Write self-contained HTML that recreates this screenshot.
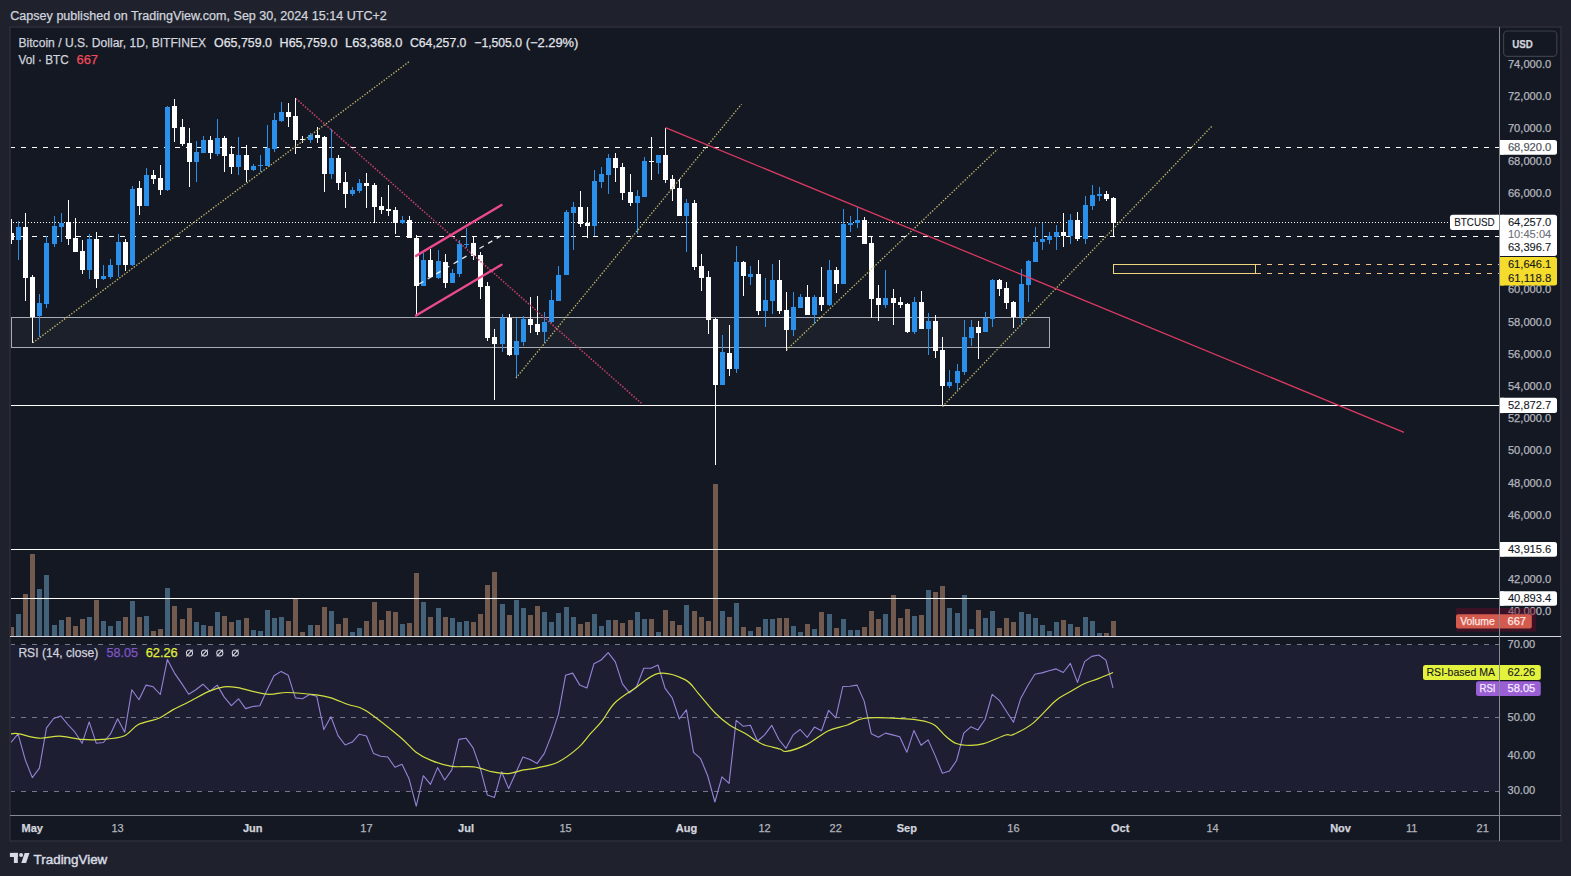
<!DOCTYPE html><html><head><meta charset="utf-8"><style>html,body{margin:0;padding:0;background:#1f222d;width:1571px;height:876px;overflow:hidden}svg{display:block}text{font-family:"Liberation Sans", sans-serif}</style></head><body>
<svg width="1571" height="876" viewBox="0 0 1571 876">
<rect x="0" y="0" width="1571" height="876" fill="#1f222d"/>
<text x="10.30" y="20.20" font-size="12.5" fill="#d1d4dc" text-anchor="start" font-weight="normal" stroke="#d1d4dc" stroke-width="0.25" textLength="376.50" lengthAdjust="spacingAndGlyphs" >Capsey published on TradingView.com, Sep 30, 2024 15:14 UTC+2</text>
<rect x="10" y="27" width="1551" height="814" fill="#141823" stroke="#2b2f3a" stroke-width="1.6"/>
<rect x="11" y="645" width="1488" height="146" fill="#7e57c2" fill-opacity="0.1"/>
<defs><clipPath id="pc"><rect x="11" y="28" width="1488.5" height="608"/></clipPath><clipPath id="rc"><rect x="11" y="637" width="1488.5" height="178"/></clipPath></defs>
<g clip-path="url(#pc)">
<rect x="11.5" y="317.5" width="1038" height="30" fill="#ffffff" fill-opacity="0.035" stroke="#a9acb4" stroke-width="1" shape-rendering="crispEdges"/>
<rect x="1113.5" y="264.5" width="142" height="9" fill="#ffffff" fill-opacity="0.02" stroke="#eed67e" stroke-width="1" shape-rendering="crispEdges"/>
<rect x="9" y="627" width="5" height="9" fill="#735a4e"/>
<rect x="16" y="614" width="5" height="22" fill="#43627a"/>
<rect x="23" y="594" width="5" height="42" fill="#735a4e"/>
<rect x="30" y="554" width="5" height="82" fill="#735a4e"/>
<rect x="37" y="589" width="5" height="47" fill="#43627a"/>
<rect x="44" y="575" width="5" height="61" fill="#43627a"/>
<rect x="52" y="625" width="5" height="11" fill="#43627a"/>
<rect x="59" y="620" width="5" height="16" fill="#43627a"/>
<rect x="66" y="617" width="5" height="19" fill="#735a4e"/>
<rect x="73" y="626" width="5" height="10" fill="#735a4e"/>
<rect x="80" y="619" width="5" height="17" fill="#735a4e"/>
<rect x="87" y="617" width="5" height="19" fill="#43627a"/>
<rect x="94" y="600" width="5" height="36" fill="#735a4e"/>
<rect x="101" y="621" width="5" height="15" fill="#43627a"/>
<rect x="108" y="626" width="5" height="10" fill="#43627a"/>
<rect x="116" y="621" width="5" height="15" fill="#43627a"/>
<rect x="123" y="617" width="5" height="19" fill="#735a4e"/>
<rect x="130" y="601" width="5" height="35" fill="#43627a"/>
<rect x="137" y="617" width="5" height="19" fill="#735a4e"/>
<rect x="144" y="616" width="5" height="20" fill="#43627a"/>
<rect x="151" y="631" width="5" height="5" fill="#735a4e"/>
<rect x="158" y="629" width="5" height="7" fill="#735a4e"/>
<rect x="165" y="588" width="5" height="48" fill="#43627a"/>
<rect x="172" y="606" width="5" height="30" fill="#735a4e"/>
<rect x="180" y="619" width="5" height="17" fill="#735a4e"/>
<rect x="187" y="608" width="5" height="28" fill="#735a4e"/>
<rect x="194" y="622" width="5" height="14" fill="#43627a"/>
<rect x="201" y="625" width="5" height="11" fill="#43627a"/>
<rect x="208" y="626" width="5" height="10" fill="#735a4e"/>
<rect x="215" y="612" width="5" height="24" fill="#43627a"/>
<rect x="222" y="616" width="5" height="20" fill="#735a4e"/>
<rect x="229" y="622" width="5" height="14" fill="#735a4e"/>
<rect x="236" y="620" width="5" height="16" fill="#43627a"/>
<rect x="244" y="618" width="5" height="18" fill="#735a4e"/>
<rect x="251" y="630" width="5" height="6" fill="#43627a"/>
<rect x="258" y="631" width="5" height="5" fill="#43627a"/>
<rect x="265" y="610" width="5" height="26" fill="#43627a"/>
<rect x="272" y="618" width="5" height="18" fill="#43627a"/>
<rect x="279" y="617" width="5" height="19" fill="#43627a"/>
<rect x="286" y="621" width="5" height="15" fill="#735a4e"/>
<rect x="293" y="599" width="5" height="37" fill="#735a4e"/>
<rect x="300" y="632" width="5" height="4" fill="#735a4e"/>
<rect x="308" y="625" width="5" height="11" fill="#43627a"/>
<rect x="315" y="625" width="5" height="11" fill="#735a4e"/>
<rect x="322" y="607" width="5" height="29" fill="#735a4e"/>
<rect x="329" y="611" width="5" height="25" fill="#43627a"/>
<rect x="336" y="624" width="5" height="12" fill="#735a4e"/>
<rect x="343" y="618" width="5" height="18" fill="#735a4e"/>
<rect x="350" y="632" width="5" height="4" fill="#43627a"/>
<rect x="357" y="628" width="5" height="8" fill="#43627a"/>
<rect x="364" y="621" width="5" height="15" fill="#735a4e"/>
<rect x="372" y="602" width="5" height="34" fill="#735a4e"/>
<rect x="379" y="620" width="5" height="16" fill="#735a4e"/>
<rect x="386" y="611" width="5" height="25" fill="#735a4e"/>
<rect x="393" y="612" width="5" height="24" fill="#735a4e"/>
<rect x="400" y="624" width="5" height="12" fill="#43627a"/>
<rect x="407" y="623" width="5" height="13" fill="#735a4e"/>
<rect x="414" y="573" width="5" height="63" fill="#735a4e"/>
<rect x="421" y="602" width="5" height="34" fill="#43627a"/>
<rect x="428" y="617" width="5" height="19" fill="#735a4e"/>
<rect x="436" y="608" width="5" height="28" fill="#43627a"/>
<rect x="443" y="617" width="5" height="19" fill="#735a4e"/>
<rect x="450" y="618" width="5" height="18" fill="#43627a"/>
<rect x="457" y="622" width="5" height="14" fill="#43627a"/>
<rect x="464" y="621" width="5" height="15" fill="#43627a"/>
<rect x="471" y="622" width="5" height="14" fill="#735a4e"/>
<rect x="478" y="614" width="5" height="22" fill="#735a4e"/>
<rect x="485" y="585" width="5" height="51" fill="#735a4e"/>
<rect x="492" y="572" width="5" height="64" fill="#735a4e"/>
<rect x="500" y="604" width="5" height="32" fill="#43627a"/>
<rect x="507" y="615" width="5" height="21" fill="#735a4e"/>
<rect x="514" y="600" width="5" height="36" fill="#43627a"/>
<rect x="521" y="608" width="5" height="28" fill="#43627a"/>
<rect x="528" y="615" width="5" height="21" fill="#735a4e"/>
<rect x="535" y="606" width="5" height="30" fill="#735a4e"/>
<rect x="542" y="612" width="5" height="24" fill="#43627a"/>
<rect x="549" y="622" width="5" height="14" fill="#43627a"/>
<rect x="556" y="613" width="5" height="23" fill="#43627a"/>
<rect x="564" y="607" width="5" height="29" fill="#43627a"/>
<rect x="571" y="617" width="5" height="19" fill="#43627a"/>
<rect x="578" y="624" width="5" height="12" fill="#735a4e"/>
<rect x="585" y="622" width="5" height="14" fill="#735a4e"/>
<rect x="592" y="614" width="5" height="22" fill="#43627a"/>
<rect x="599" y="626" width="5" height="10" fill="#43627a"/>
<rect x="606" y="620" width="5" height="16" fill="#43627a"/>
<rect x="613" y="620" width="5" height="16" fill="#735a4e"/>
<rect x="620" y="623" width="5" height="13" fill="#735a4e"/>
<rect x="628" y="620" width="5" height="16" fill="#735a4e"/>
<rect x="635" y="612" width="5" height="24" fill="#43627a"/>
<rect x="642" y="619" width="5" height="17" fill="#43627a"/>
<rect x="649" y="619" width="5" height="17" fill="#735a4e"/>
<rect x="656" y="632" width="5" height="4" fill="#43627a"/>
<rect x="663" y="610" width="5" height="26" fill="#735a4e"/>
<rect x="670" y="621" width="5" height="15" fill="#735a4e"/>
<rect x="677" y="625" width="5" height="11" fill="#735a4e"/>
<rect x="684" y="605" width="5" height="31" fill="#43627a"/>
<rect x="692" y="611" width="5" height="25" fill="#735a4e"/>
<rect x="699" y="617" width="5" height="19" fill="#735a4e"/>
<rect x="706" y="621" width="5" height="15" fill="#735a4e"/>
<rect x="713" y="484" width="5" height="152" fill="#735a4e"/>
<rect x="720" y="611" width="5" height="25" fill="#43627a"/>
<rect x="727" y="617" width="5" height="19" fill="#735a4e"/>
<rect x="734" y="603" width="5" height="33" fill="#43627a"/>
<rect x="741" y="627" width="5" height="9" fill="#735a4e"/>
<rect x="748" y="631" width="5" height="5" fill="#43627a"/>
<rect x="756" y="627" width="5" height="9" fill="#735a4e"/>
<rect x="763" y="619" width="5" height="17" fill="#43627a"/>
<rect x="770" y="619" width="5" height="17" fill="#43627a"/>
<rect x="777" y="618" width="5" height="18" fill="#735a4e"/>
<rect x="784" y="618" width="5" height="18" fill="#735a4e"/>
<rect x="791" y="626" width="5" height="10" fill="#43627a"/>
<rect x="798" y="632" width="5" height="4" fill="#43627a"/>
<rect x="805" y="624" width="5" height="12" fill="#735a4e"/>
<rect x="812" y="629" width="5" height="7" fill="#43627a"/>
<rect x="819" y="612" width="5" height="24" fill="#735a4e"/>
<rect x="827" y="614" width="5" height="22" fill="#43627a"/>
<rect x="834" y="628" width="5" height="8" fill="#735a4e"/>
<rect x="841" y="619" width="5" height="17" fill="#43627a"/>
<rect x="848" y="630" width="5" height="6" fill="#43627a"/>
<rect x="855" y="630" width="5" height="6" fill="#43627a"/>
<rect x="862" y="627" width="5" height="9" fill="#735a4e"/>
<rect x="869" y="611" width="5" height="25" fill="#735a4e"/>
<rect x="876" y="619" width="5" height="17" fill="#735a4e"/>
<rect x="883" y="614" width="5" height="22" fill="#43627a"/>
<rect x="891" y="595" width="5" height="41" fill="#735a4e"/>
<rect x="898" y="618" width="5" height="18" fill="#735a4e"/>
<rect x="905" y="609" width="5" height="27" fill="#735a4e"/>
<rect x="912" y="616" width="5" height="20" fill="#43627a"/>
<rect x="919" y="615" width="5" height="21" fill="#735a4e"/>
<rect x="926" y="590" width="5" height="46" fill="#43627a"/>
<rect x="933" y="592" width="5" height="44" fill="#735a4e"/>
<rect x="940" y="586" width="5" height="50" fill="#735a4e"/>
<rect x="947" y="608" width="5" height="28" fill="#43627a"/>
<rect x="955" y="613" width="5" height="23" fill="#43627a"/>
<rect x="962" y="595" width="5" height="41" fill="#43627a"/>
<rect x="969" y="629" width="5" height="7" fill="#43627a"/>
<rect x="976" y="610" width="5" height="26" fill="#735a4e"/>
<rect x="983" y="618" width="5" height="18" fill="#43627a"/>
<rect x="990" y="611" width="5" height="25" fill="#43627a"/>
<rect x="997" y="628" width="5" height="8" fill="#735a4e"/>
<rect x="1004" y="618" width="5" height="18" fill="#735a4e"/>
<rect x="1011" y="622" width="5" height="14" fill="#735a4e"/>
<rect x="1019" y="612" width="5" height="24" fill="#43627a"/>
<rect x="1026" y="614" width="5" height="22" fill="#43627a"/>
<rect x="1033" y="618" width="5" height="18" fill="#43627a"/>
<rect x="1040" y="625" width="5" height="11" fill="#43627a"/>
<rect x="1047" y="631" width="5" height="5" fill="#43627a"/>
<rect x="1054" y="622" width="5" height="14" fill="#43627a"/>
<rect x="1061" y="620" width="5" height="16" fill="#735a4e"/>
<rect x="1068" y="624" width="5" height="12" fill="#43627a"/>
<rect x="1075" y="627" width="5" height="9" fill="#735a4e"/>
<rect x="1083" y="617" width="5" height="19" fill="#43627a"/>
<rect x="1090" y="621" width="5" height="15" fill="#43627a"/>
<rect x="1097" y="633" width="5" height="3" fill="#43627a"/>
<rect x="1104" y="633" width="5" height="3" fill="#735a4e"/>
<rect x="1111" y="621" width="5" height="15" fill="#735a4e"/>
<line x1="10" y1="147.5" x2="1499" y2="147.5" stroke="#ffffff" stroke-width="1" stroke-dasharray="5 6" stroke-dashoffset="0" shape-rendering="crispEdges"/>
<line x1="10" y1="236.5" x2="1499" y2="236.5" stroke="#ffffff" stroke-width="1" stroke-dasharray="5 6" stroke-dashoffset="0" shape-rendering="crispEdges"/>
<line x1="10" y1="222.5" x2="1450" y2="222.5" stroke="#ffffff" stroke-width="1" stroke-dasharray="1 2" stroke-dashoffset="0" shape-rendering="crispEdges"/>
<line x1="1256" y1="264.5" x2="1499" y2="264.5" stroke="#f2c48a" stroke-width="1" stroke-dasharray="5 6" stroke-dashoffset="0" shape-rendering="crispEdges"/>
<line x1="1256" y1="273.5" x2="1499" y2="273.5" stroke="#f2c48a" stroke-width="1" stroke-dasharray="5 6" stroke-dashoffset="0" shape-rendering="crispEdges"/>
<line x1="11" y1="405.5" x2="1499" y2="405.5" stroke="#ffffff" stroke-width="1" shape-rendering="crispEdges"/>
<line x1="11" y1="549.5" x2="1499" y2="549.5" stroke="#ffffff" stroke-width="1" shape-rendering="crispEdges"/>
<line x1="11" y1="598.5" x2="1499" y2="598.5" stroke="#ffffff" stroke-width="1" shape-rendering="crispEdges"/>
<rect x="11" y="219" width="1" height="25" fill="#ffffff"/>
<rect x="9" y="233" width="5" height="7" fill="#ffffff"/>
<rect x="18" y="221" width="1" height="39" fill="#2a90ea"/>
<rect x="16" y="227" width="5" height="13" fill="#2a90ea"/>
<rect x="25" y="213" width="1" height="88" fill="#ffffff"/>
<rect x="23" y="227" width="5" height="51" fill="#ffffff"/>
<rect x="32" y="275" width="1" height="68" fill="#ffffff"/>
<rect x="30" y="277" width="5" height="40" fill="#ffffff"/>
<rect x="39" y="294" width="1" height="43" fill="#2a90ea"/>
<rect x="37" y="303" width="5" height="13" fill="#2a90ea"/>
<rect x="46" y="236" width="1" height="72" fill="#2a90ea"/>
<rect x="44" y="243" width="5" height="61" fill="#2a90ea"/>
<rect x="54" y="216" width="1" height="31" fill="#2a90ea"/>
<rect x="52" y="226" width="5" height="18" fill="#2a90ea"/>
<rect x="61" y="213" width="1" height="29" fill="#2a90ea"/>
<rect x="59" y="223" width="5" height="4" fill="#2a90ea"/>
<rect x="68" y="200" width="1" height="45" fill="#ffffff"/>
<rect x="66" y="222" width="5" height="17" fill="#ffffff"/>
<rect x="75" y="218" width="1" height="34" fill="#ffffff"/>
<rect x="73" y="238" width="5" height="14" fill="#ffffff"/>
<rect x="82" y="240" width="1" height="34" fill="#ffffff"/>
<rect x="80" y="251" width="5" height="19" fill="#ffffff"/>
<rect x="89" y="234" width="1" height="45" fill="#2a90ea"/>
<rect x="87" y="239" width="5" height="31" fill="#2a90ea"/>
<rect x="96" y="232" width="1" height="56" fill="#ffffff"/>
<rect x="94" y="239" width="5" height="40" fill="#ffffff"/>
<rect x="103" y="265" width="1" height="15" fill="#2a90ea"/>
<rect x="101" y="276" width="5" height="3" fill="#2a90ea"/>
<rect x="110" y="259" width="1" height="20" fill="#2a90ea"/>
<rect x="108" y="265" width="5" height="12" fill="#2a90ea"/>
<rect x="118" y="234" width="1" height="43" fill="#2a90ea"/>
<rect x="116" y="242" width="5" height="23" fill="#2a90ea"/>
<rect x="125" y="239" width="1" height="32" fill="#ffffff"/>
<rect x="123" y="242" width="5" height="23" fill="#ffffff"/>
<rect x="132" y="186" width="1" height="80" fill="#2a90ea"/>
<rect x="130" y="189" width="5" height="76" fill="#2a90ea"/>
<rect x="139" y="181" width="1" height="34" fill="#ffffff"/>
<rect x="137" y="188" width="5" height="18" fill="#ffffff"/>
<rect x="146" y="168" width="1" height="38" fill="#2a90ea"/>
<rect x="144" y="175" width="5" height="31" fill="#2a90ea"/>
<rect x="153" y="170" width="1" height="14" fill="#ffffff"/>
<rect x="151" y="175" width="5" height="4" fill="#ffffff"/>
<rect x="160" y="165" width="1" height="30" fill="#ffffff"/>
<rect x="158" y="178" width="5" height="12" fill="#ffffff"/>
<rect x="167" y="106" width="1" height="85" fill="#2a90ea"/>
<rect x="165" y="107" width="5" height="83" fill="#2a90ea"/>
<rect x="174" y="99" width="1" height="43" fill="#ffffff"/>
<rect x="172" y="106" width="5" height="22" fill="#ffffff"/>
<rect x="182" y="119" width="1" height="27" fill="#ffffff"/>
<rect x="180" y="127" width="5" height="17" fill="#ffffff"/>
<rect x="189" y="128" width="1" height="59" fill="#ffffff"/>
<rect x="187" y="143" width="5" height="19" fill="#ffffff"/>
<rect x="196" y="141" width="1" height="41" fill="#2a90ea"/>
<rect x="194" y="152" width="5" height="10" fill="#2a90ea"/>
<rect x="203" y="136" width="1" height="17" fill="#2a90ea"/>
<rect x="201" y="140" width="5" height="13" fill="#2a90ea"/>
<rect x="210" y="136" width="1" height="23" fill="#ffffff"/>
<rect x="208" y="140" width="5" height="13" fill="#ffffff"/>
<rect x="217" y="119" width="1" height="37" fill="#2a90ea"/>
<rect x="215" y="138" width="5" height="16" fill="#2a90ea"/>
<rect x="224" y="136" width="1" height="36" fill="#ffffff"/>
<rect x="222" y="138" width="5" height="18" fill="#ffffff"/>
<rect x="231" y="146" width="1" height="28" fill="#ffffff"/>
<rect x="229" y="154" width="5" height="13" fill="#ffffff"/>
<rect x="238" y="137" width="1" height="38" fill="#2a90ea"/>
<rect x="236" y="155" width="5" height="12" fill="#2a90ea"/>
<rect x="246" y="145" width="1" height="37" fill="#ffffff"/>
<rect x="244" y="155" width="5" height="15" fill="#ffffff"/>
<rect x="253" y="164" width="1" height="7" fill="#2a90ea"/>
<rect x="251" y="166" width="5" height="4" fill="#2a90ea"/>
<rect x="260" y="155" width="1" height="17" fill="#2a90ea"/>
<rect x="258" y="165" width="5" height="1" fill="#2a90ea"/>
<rect x="267" y="125" width="1" height="41" fill="#2a90ea"/>
<rect x="265" y="148" width="5" height="18" fill="#2a90ea"/>
<rect x="274" y="113" width="1" height="39" fill="#2a90ea"/>
<rect x="272" y="120" width="5" height="29" fill="#2a90ea"/>
<rect x="281" y="102" width="1" height="20" fill="#2a90ea"/>
<rect x="279" y="112" width="5" height="9" fill="#2a90ea"/>
<rect x="288" y="103" width="1" height="24" fill="#ffffff"/>
<rect x="286" y="112" width="5" height="5" fill="#ffffff"/>
<rect x="295" y="98" width="1" height="56" fill="#ffffff"/>
<rect x="293" y="116" width="5" height="24" fill="#ffffff"/>
<rect x="302" y="136" width="1" height="7" fill="#ffffff"/>
<rect x="300" y="139" width="5" height="1" fill="#ffffff"/>
<rect x="310" y="133" width="1" height="10" fill="#2a90ea"/>
<rect x="308" y="135" width="5" height="5" fill="#2a90ea"/>
<rect x="317" y="127" width="1" height="16" fill="#ffffff"/>
<rect x="315" y="135" width="5" height="3" fill="#ffffff"/>
<rect x="324" y="136" width="1" height="56" fill="#ffffff"/>
<rect x="322" y="137" width="5" height="37" fill="#ffffff"/>
<rect x="331" y="129" width="1" height="50" fill="#2a90ea"/>
<rect x="329" y="158" width="5" height="16" fill="#2a90ea"/>
<rect x="338" y="155" width="1" height="35" fill="#ffffff"/>
<rect x="336" y="158" width="5" height="25" fill="#ffffff"/>
<rect x="345" y="172" width="1" height="36" fill="#ffffff"/>
<rect x="343" y="182" width="5" height="12" fill="#ffffff"/>
<rect x="352" y="187" width="1" height="9" fill="#2a90ea"/>
<rect x="350" y="190" width="5" height="4" fill="#2a90ea"/>
<rect x="359" y="179" width="1" height="14" fill="#2a90ea"/>
<rect x="357" y="183" width="5" height="8" fill="#2a90ea"/>
<rect x="366" y="173" width="1" height="35" fill="#ffffff"/>
<rect x="364" y="183" width="5" height="3" fill="#ffffff"/>
<rect x="374" y="183" width="1" height="40" fill="#ffffff"/>
<rect x="372" y="185" width="5" height="22" fill="#ffffff"/>
<rect x="381" y="197" width="1" height="17" fill="#ffffff"/>
<rect x="379" y="206" width="5" height="4" fill="#ffffff"/>
<rect x="388" y="185" width="1" height="31" fill="#ffffff"/>
<rect x="386" y="209" width="5" height="2" fill="#ffffff"/>
<rect x="395" y="207" width="1" height="27" fill="#ffffff"/>
<rect x="393" y="210" width="5" height="13" fill="#ffffff"/>
<rect x="402" y="216" width="1" height="8" fill="#2a90ea"/>
<rect x="400" y="220" width="5" height="3" fill="#2a90ea"/>
<rect x="409" y="216" width="1" height="22" fill="#ffffff"/>
<rect x="407" y="220" width="5" height="18" fill="#ffffff"/>
<rect x="416" y="235" width="1" height="80" fill="#ffffff"/>
<rect x="414" y="238" width="5" height="48" fill="#ffffff"/>
<rect x="423" y="253" width="1" height="33" fill="#2a90ea"/>
<rect x="421" y="260" width="5" height="26" fill="#2a90ea"/>
<rect x="430" y="249" width="1" height="28" fill="#ffffff"/>
<rect x="428" y="260" width="5" height="17" fill="#ffffff"/>
<rect x="438" y="250" width="1" height="29" fill="#2a90ea"/>
<rect x="436" y="261" width="5" height="17" fill="#2a90ea"/>
<rect x="445" y="254" width="1" height="34" fill="#ffffff"/>
<rect x="443" y="262" width="5" height="21" fill="#ffffff"/>
<rect x="452" y="269" width="1" height="14" fill="#2a90ea"/>
<rect x="450" y="273" width="5" height="10" fill="#2a90ea"/>
<rect x="459" y="240" width="1" height="37" fill="#2a90ea"/>
<rect x="457" y="244" width="5" height="30" fill="#2a90ea"/>
<rect x="466" y="228" width="1" height="20" fill="#2a90ea"/>
<rect x="464" y="244" width="5" height="1" fill="#2a90ea"/>
<rect x="473" y="236" width="1" height="24" fill="#ffffff"/>
<rect x="471" y="243" width="5" height="13" fill="#ffffff"/>
<rect x="480" y="252" width="1" height="47" fill="#ffffff"/>
<rect x="478" y="255" width="5" height="32" fill="#ffffff"/>
<rect x="487" y="282" width="1" height="59" fill="#ffffff"/>
<rect x="485" y="286" width="5" height="52" fill="#ffffff"/>
<rect x="494" y="329" width="1" height="71" fill="#ffffff"/>
<rect x="492" y="337" width="5" height="7" fill="#ffffff"/>
<rect x="502" y="314" width="1" height="38" fill="#2a90ea"/>
<rect x="500" y="318" width="5" height="26" fill="#2a90ea"/>
<rect x="509" y="314" width="1" height="42" fill="#ffffff"/>
<rect x="507" y="318" width="5" height="37" fill="#ffffff"/>
<rect x="516" y="318" width="1" height="60" fill="#2a90ea"/>
<rect x="514" y="341" width="5" height="14" fill="#2a90ea"/>
<rect x="523" y="316" width="1" height="30" fill="#2a90ea"/>
<rect x="521" y="319" width="5" height="23" fill="#2a90ea"/>
<rect x="530" y="297" width="1" height="36" fill="#ffffff"/>
<rect x="528" y="319" width="5" height="6" fill="#ffffff"/>
<rect x="537" y="296" width="1" height="39" fill="#ffffff"/>
<rect x="535" y="324" width="5" height="8" fill="#ffffff"/>
<rect x="544" y="312" width="1" height="31" fill="#2a90ea"/>
<rect x="542" y="322" width="5" height="10" fill="#2a90ea"/>
<rect x="551" y="290" width="1" height="33" fill="#2a90ea"/>
<rect x="549" y="300" width="5" height="22" fill="#2a90ea"/>
<rect x="558" y="266" width="1" height="35" fill="#2a90ea"/>
<rect x="556" y="275" width="5" height="26" fill="#2a90ea"/>
<rect x="566" y="210" width="1" height="65" fill="#2a90ea"/>
<rect x="564" y="212" width="5" height="63" fill="#2a90ea"/>
<rect x="573" y="202" width="1" height="48" fill="#2a90ea"/>
<rect x="571" y="207" width="5" height="6" fill="#2a90ea"/>
<rect x="580" y="191" width="1" height="36" fill="#ffffff"/>
<rect x="578" y="207" width="5" height="17" fill="#ffffff"/>
<rect x="587" y="207" width="1" height="31" fill="#ffffff"/>
<rect x="585" y="223" width="5" height="3" fill="#ffffff"/>
<rect x="594" y="170" width="1" height="66" fill="#2a90ea"/>
<rect x="592" y="181" width="5" height="45" fill="#2a90ea"/>
<rect x="601" y="167" width="1" height="21" fill="#2a90ea"/>
<rect x="599" y="174" width="5" height="8" fill="#2a90ea"/>
<rect x="608" y="154" width="1" height="40" fill="#2a90ea"/>
<rect x="606" y="158" width="5" height="17" fill="#2a90ea"/>
<rect x="615" y="153" width="1" height="29" fill="#ffffff"/>
<rect x="613" y="158" width="5" height="10" fill="#ffffff"/>
<rect x="622" y="163" width="1" height="37" fill="#ffffff"/>
<rect x="620" y="167" width="5" height="26" fill="#ffffff"/>
<rect x="630" y="174" width="1" height="32" fill="#ffffff"/>
<rect x="628" y="192" width="5" height="11" fill="#ffffff"/>
<rect x="637" y="190" width="1" height="44" fill="#2a90ea"/>
<rect x="635" y="196" width="5" height="7" fill="#2a90ea"/>
<rect x="644" y="157" width="1" height="40" fill="#2a90ea"/>
<rect x="642" y="161" width="5" height="36" fill="#2a90ea"/>
<rect x="651" y="137" width="1" height="43" fill="#ffffff"/>
<rect x="649" y="161" width="5" height="1" fill="#ffffff"/>
<rect x="658" y="155" width="1" height="19" fill="#2a90ea"/>
<rect x="656" y="155" width="5" height="8" fill="#2a90ea"/>
<rect x="665" y="128" width="1" height="55" fill="#ffffff"/>
<rect x="663" y="155" width="5" height="25" fill="#ffffff"/>
<rect x="672" y="175" width="1" height="26" fill="#ffffff"/>
<rect x="670" y="179" width="5" height="10" fill="#ffffff"/>
<rect x="679" y="179" width="1" height="37" fill="#ffffff"/>
<rect x="677" y="188" width="5" height="28" fill="#ffffff"/>
<rect x="686" y="199" width="1" height="53" fill="#2a90ea"/>
<rect x="684" y="203" width="5" height="13" fill="#2a90ea"/>
<rect x="694" y="200" width="1" height="70" fill="#ffffff"/>
<rect x="692" y="203" width="5" height="64" fill="#ffffff"/>
<rect x="701" y="254" width="1" height="37" fill="#ffffff"/>
<rect x="699" y="266" width="5" height="12" fill="#ffffff"/>
<rect x="708" y="271" width="1" height="63" fill="#ffffff"/>
<rect x="706" y="277" width="5" height="43" fill="#ffffff"/>
<rect x="715" y="318" width="1" height="147" fill="#ffffff"/>
<rect x="713" y="319" width="5" height="66" fill="#ffffff"/>
<rect x="722" y="335" width="1" height="50" fill="#2a90ea"/>
<rect x="720" y="352" width="5" height="33" fill="#2a90ea"/>
<rect x="729" y="325" width="1" height="51" fill="#ffffff"/>
<rect x="727" y="353" width="5" height="16" fill="#ffffff"/>
<rect x="736" y="246" width="1" height="127" fill="#2a90ea"/>
<rect x="734" y="262" width="5" height="107" fill="#2a90ea"/>
<rect x="743" y="261" width="1" height="35" fill="#ffffff"/>
<rect x="741" y="262" width="5" height="14" fill="#ffffff"/>
<rect x="750" y="266" width="1" height="19" fill="#2a90ea"/>
<rect x="748" y="274" width="5" height="3" fill="#2a90ea"/>
<rect x="758" y="260" width="1" height="55" fill="#ffffff"/>
<rect x="756" y="274" width="5" height="37" fill="#ffffff"/>
<rect x="765" y="278" width="1" height="49" fill="#2a90ea"/>
<rect x="763" y="300" width="5" height="11" fill="#2a90ea"/>
<rect x="772" y="264" width="1" height="50" fill="#2a90ea"/>
<rect x="770" y="280" width="5" height="21" fill="#2a90ea"/>
<rect x="779" y="260" width="1" height="54" fill="#ffffff"/>
<rect x="777" y="280" width="5" height="31" fill="#ffffff"/>
<rect x="786" y="292" width="1" height="59" fill="#ffffff"/>
<rect x="784" y="310" width="5" height="20" fill="#ffffff"/>
<rect x="793" y="292" width="1" height="44" fill="#2a90ea"/>
<rect x="791" y="307" width="5" height="23" fill="#2a90ea"/>
<rect x="800" y="294" width="1" height="14" fill="#2a90ea"/>
<rect x="798" y="297" width="5" height="11" fill="#2a90ea"/>
<rect x="807" y="285" width="1" height="30" fill="#ffffff"/>
<rect x="805" y="297" width="5" height="18" fill="#ffffff"/>
<rect x="814" y="295" width="1" height="29" fill="#2a90ea"/>
<rect x="812" y="297" width="5" height="18" fill="#2a90ea"/>
<rect x="821" y="267" width="1" height="44" fill="#ffffff"/>
<rect x="819" y="297" width="5" height="8" fill="#ffffff"/>
<rect x="829" y="260" width="1" height="46" fill="#2a90ea"/>
<rect x="827" y="270" width="5" height="35" fill="#2a90ea"/>
<rect x="836" y="267" width="1" height="26" fill="#ffffff"/>
<rect x="834" y="270" width="5" height="14" fill="#ffffff"/>
<rect x="843" y="209" width="1" height="75" fill="#2a90ea"/>
<rect x="841" y="224" width="5" height="60" fill="#2a90ea"/>
<rect x="850" y="216" width="1" height="16" fill="#2a90ea"/>
<rect x="848" y="223" width="5" height="2" fill="#2a90ea"/>
<rect x="857" y="207" width="1" height="21" fill="#2a90ea"/>
<rect x="855" y="220" width="5" height="3" fill="#2a90ea"/>
<rect x="864" y="217" width="1" height="27" fill="#ffffff"/>
<rect x="862" y="220" width="5" height="24" fill="#ffffff"/>
<rect x="871" y="237" width="1" height="81" fill="#ffffff"/>
<rect x="869" y="243" width="5" height="56" fill="#ffffff"/>
<rect x="878" y="285" width="1" height="36" fill="#ffffff"/>
<rect x="876" y="298" width="5" height="7" fill="#ffffff"/>
<rect x="885" y="270" width="1" height="38" fill="#2a90ea"/>
<rect x="883" y="298" width="5" height="7" fill="#2a90ea"/>
<rect x="893" y="289" width="1" height="36" fill="#ffffff"/>
<rect x="891" y="298" width="5" height="5" fill="#ffffff"/>
<rect x="900" y="297" width="1" height="11" fill="#ffffff"/>
<rect x="898" y="302" width="5" height="3" fill="#ffffff"/>
<rect x="907" y="303" width="1" height="30" fill="#ffffff"/>
<rect x="905" y="304" width="5" height="28" fill="#ffffff"/>
<rect x="914" y="297" width="1" height="37" fill="#2a90ea"/>
<rect x="912" y="302" width="5" height="30" fill="#2a90ea"/>
<rect x="921" y="291" width="1" height="38" fill="#ffffff"/>
<rect x="919" y="302" width="5" height="27" fill="#ffffff"/>
<rect x="928" y="313" width="1" height="42" fill="#2a90ea"/>
<rect x="926" y="321" width="5" height="8" fill="#2a90ea"/>
<rect x="935" y="315" width="1" height="43" fill="#ffffff"/>
<rect x="933" y="321" width="5" height="30" fill="#ffffff"/>
<rect x="942" y="337" width="1" height="69" fill="#ffffff"/>
<rect x="940" y="350" width="5" height="36" fill="#ffffff"/>
<rect x="949" y="370" width="1" height="18" fill="#2a90ea"/>
<rect x="947" y="382" width="5" height="4" fill="#2a90ea"/>
<rect x="957" y="364" width="1" height="26" fill="#2a90ea"/>
<rect x="955" y="371" width="5" height="12" fill="#2a90ea"/>
<rect x="964" y="320" width="1" height="55" fill="#2a90ea"/>
<rect x="962" y="337" width="5" height="35" fill="#2a90ea"/>
<rect x="971" y="320" width="1" height="26" fill="#2a90ea"/>
<rect x="969" y="327" width="5" height="11" fill="#2a90ea"/>
<rect x="978" y="321" width="1" height="38" fill="#ffffff"/>
<rect x="976" y="327" width="5" height="6" fill="#ffffff"/>
<rect x="985" y="312" width="1" height="20" fill="#2a90ea"/>
<rect x="983" y="318" width="5" height="14" fill="#2a90ea"/>
<rect x="992" y="279" width="1" height="48" fill="#2a90ea"/>
<rect x="990" y="280" width="5" height="39" fill="#2a90ea"/>
<rect x="999" y="279" width="1" height="17" fill="#ffffff"/>
<rect x="997" y="280" width="5" height="9" fill="#ffffff"/>
<rect x="1006" y="282" width="1" height="27" fill="#ffffff"/>
<rect x="1004" y="288" width="5" height="15" fill="#ffffff"/>
<rect x="1013" y="301" width="1" height="27" fill="#ffffff"/>
<rect x="1011" y="302" width="5" height="15" fill="#ffffff"/>
<rect x="1021" y="269" width="1" height="56" fill="#2a90ea"/>
<rect x="1019" y="284" width="5" height="33" fill="#2a90ea"/>
<rect x="1028" y="260" width="1" height="42" fill="#2a90ea"/>
<rect x="1026" y="261" width="5" height="24" fill="#2a90ea"/>
<rect x="1035" y="227" width="1" height="35" fill="#2a90ea"/>
<rect x="1033" y="242" width="5" height="20" fill="#2a90ea"/>
<rect x="1042" y="223" width="1" height="27" fill="#2a90ea"/>
<rect x="1040" y="239" width="5" height="3" fill="#2a90ea"/>
<rect x="1049" y="232" width="1" height="12" fill="#2a90ea"/>
<rect x="1047" y="236" width="5" height="4" fill="#2a90ea"/>
<rect x="1056" y="225" width="1" height="25" fill="#2a90ea"/>
<rect x="1054" y="232" width="5" height="5" fill="#2a90ea"/>
<rect x="1063" y="213" width="1" height="34" fill="#ffffff"/>
<rect x="1061" y="232" width="5" height="4" fill="#ffffff"/>
<rect x="1070" y="214" width="1" height="30" fill="#2a90ea"/>
<rect x="1068" y="220" width="5" height="16" fill="#2a90ea"/>
<rect x="1077" y="212" width="1" height="29" fill="#ffffff"/>
<rect x="1075" y="220" width="5" height="19" fill="#ffffff"/>
<rect x="1085" y="196" width="1" height="48" fill="#2a90ea"/>
<rect x="1083" y="205" width="5" height="34" fill="#2a90ea"/>
<rect x="1092" y="185" width="1" height="25" fill="#2a90ea"/>
<rect x="1090" y="195" width="5" height="11" fill="#2a90ea"/>
<rect x="1099" y="187" width="1" height="14" fill="#2a90ea"/>
<rect x="1097" y="194" width="5" height="2" fill="#2a90ea"/>
<rect x="1106" y="191" width="1" height="10" fill="#ffffff"/>
<rect x="1104" y="194" width="5" height="5" fill="#ffffff"/>
<rect x="1113" y="197" width="1" height="39" fill="#ffffff"/>
<rect x="1111" y="198" width="5" height="25" fill="#ffffff"/>
<line x1="32.8" y1="342.8" x2="408.9" y2="61.8" stroke="#c4bb6e" stroke-width="1.3" stroke-dasharray="1.4 1.6"/>
<line x1="516" y1="378" x2="741.5" y2="104.2" stroke="#c4bb6e" stroke-width="1.3" stroke-dasharray="1.4 1.6"/>
<line x1="786.5" y1="350" x2="997.6" y2="149.1" stroke="#c4bb6e" stroke-width="1.3" stroke-dasharray="1.4 1.6"/>
<line x1="942.5" y1="406.5" x2="1212.7" y2="125.3" stroke="#c4bb6e" stroke-width="1.3" stroke-dasharray="1.4 1.6"/>
<line x1="296" y1="98.7" x2="642.3" y2="404.1" stroke="#c9426a" stroke-width="1.5" stroke-dasharray="1.5 1.5"/>
<line x1="665.5" y1="127.7" x2="1404" y2="432.3" stroke="#dc3a60" stroke-width="1.25"/>
<line x1="416" y1="255.9" x2="501.5" y2="205" stroke="#ea4a8c" stroke-width="2.4" stroke-linecap="round"/>
<line x1="416" y1="315.5" x2="501.5" y2="264.7" stroke="#ea4a8c" stroke-width="2.4" stroke-linecap="round"/>
<line x1="419.1" y1="284" x2="501.5" y2="235.5" stroke="#ffffff" stroke-width="1.3" stroke-dasharray="5 5" stroke-opacity="0.9"/>
</g>
<g clip-path="url(#rc)">
<line x1="10" y1="644.5" x2="1499" y2="644.5" stroke="#757888" stroke-width="1" stroke-dasharray="5 6" stroke-dashoffset="0" shape-rendering="crispEdges"/>
<line x1="10" y1="717.5" x2="1499" y2="717.5" stroke="#757888" stroke-width="1" stroke-dasharray="5 6" stroke-dashoffset="0" shape-rendering="crispEdges"/>
<line x1="10" y1="791.5" x2="1499" y2="791.5" stroke="#757888" stroke-width="1" stroke-dasharray="5 6" stroke-dashoffset="0" shape-rendering="crispEdges"/>
<polyline points="10.97,742.5 18.08,733.9 25.19,759.6 32.30,777.6 39.41,768.2 46.52,727.9 53.63,718.5 60.74,715.9 67.85,724.5 74.96,732.2 82.07,743.3 89.18,721.9 96.29,743.3 103.40,742.5 110.51,733.9 117.62,718.8 124.73,732.2 131.84,689.7 138.95,699.7 146.06,685.1 153.17,686.8 160.28,694.5 167.39,659.4 174.50,673.1 181.61,683.4 188.72,694.2 195.83,689.7 202.94,684.2 210.05,691.1 217.16,685.1 224.27,697.1 231.38,705.7 238.49,698.8 245.60,708.6 252.71,706.5 259.82,705.7 266.93,690.2 274.04,675.7 281.15,671.4 288.26,675.3 295.37,697.9 302.48,698.8 309.59,694.5 316.70,696.2 323.81,729.6 330.92,716.8 338.03,735.6 345.14,745.0 352.25,742.1 359.36,734.2 366.47,736.0 373.58,753.6 380.69,756.2 387.80,757.0 394.91,767.3 402.02,764.2 409.13,779.1 416.24,806.2 423.35,775.7 430.46,784.4 437.57,767.6 444.68,780.0 451.79,769.9 458.90,739.4 466.01,738.2 473.12,747.9 480.23,768.2 487.34,795.1 494.45,797.4 501.56,771.8 508.67,788.6 515.78,772.9 522.89,757.0 530.00,759.6 537.11,763.4 544.22,753.6 551.33,735.6 558.44,714.2 565.55,675.3 572.66,673.1 579.77,685.1 586.88,688.0 593.99,663.7 601.10,660.0 608.21,652.7 615.32,661.9 622.43,683.8 629.54,692.9 636.65,686.5 643.76,668.3 650.87,668.3 657.98,665.0 665.09,688.4 672.20,697.9 679.31,719.0 686.42,709.9 693.53,752.3 700.64,758.7 707.75,776.0 714.86,802.0 721.97,776.9 729.08,783.3 736.19,720.3 743.30,726.3 750.41,725.3 757.52,741.0 764.63,734.9 771.74,725.3 778.85,739.5 785.96,748.3 793.07,734.9 800.18,729.5 807.29,737.3 814.40,727.1 821.51,730.7 828.62,710.3 835.73,717.9 842.84,686.5 849.95,686.2 857.06,685.1 864.17,701.1 871.28,733.7 878.39,737.3 885.50,733.1 892.61,734.9 899.72,736.8 906.83,752.3 913.94,730.4 921.05,745.3 928.16,739.9 935.27,755.9 942.38,773.3 949.49,770.9 956.60,760.5 963.71,733.2 970.82,726.8 977.93,729.9 985.04,719.5 992.15,694.4 999.26,700.3 1006.37,711.2 1013.48,722.2 1020.59,698.8 1027.70,685.7 1034.81,674.3 1041.92,672.9 1049.03,670.7 1056.14,668.9 1063.25,672.5 1070.36,663.4 1077.47,682.4 1084.58,661.6 1091.69,656.4 1098.80,655.0 1105.91,660.1 1113.02,687.9" fill="none" stroke="#9583d8" stroke-width="1.1" stroke-linejoin="round"/>
<path d="M10.0,734.2 C11.3,734.1 12.8,732.9 17.7,733.6 C22.6,734.3 32.1,737.8 39.1,738.2 C46.1,738.6 52.6,735.9 59.7,736.1 C66.8,736.3 74.8,738.9 81.9,739.4 C89.0,739.9 95.5,740.0 102.5,739.4 C109.5,738.8 117.9,738.5 123.9,736.0 C129.9,733.5 132.6,727.5 138.4,724.5 C144.2,721.5 153.3,720.6 159.0,718.2 C164.7,715.8 167.8,712.6 172.7,709.9 C177.5,707.2 182.0,705.3 188.1,702.2 C194.2,699.1 203.5,693.7 209.5,691.1 C215.5,688.5 219.3,687.4 224.0,686.8 C228.7,686.2 230.6,686.5 237.7,687.7 C244.8,688.9 258.5,693.4 266.8,694.2 C275.1,695.0 279.0,692.4 287.3,692.5 C295.6,692.6 309.3,694.0 316.4,694.9 C323.5,695.8 324.7,696.0 330.1,697.6 C335.5,699.2 343.1,702.7 349.0,704.8 C354.9,706.9 356.8,705.0 365.2,710.3 C373.6,715.6 391.1,729.6 399.5,736.5 C407.9,743.4 410.4,747.9 415.7,751.9 C421.0,755.9 425.1,758.0 431.1,760.4 C437.1,762.8 444.5,765.3 451.6,766.4 C458.7,767.5 467.0,765.9 473.9,766.8 C480.8,767.7 487.0,770.8 492.7,771.9 C498.4,773.0 503.0,773.9 508.2,773.6 C513.4,773.3 518.8,770.9 523.6,769.9 C528.5,768.9 531.6,769.1 537.3,767.8 C543.0,766.5 550.9,765.6 557.8,762.2 C564.6,758.8 573.0,752.3 578.4,747.6 C583.8,742.9 586.1,738.6 590.0,734.2 C593.9,729.8 597.8,726.4 601.9,721.2 C606.0,716.0 609.2,708.5 614.7,703.0 C620.2,697.5 627.5,693.3 634.8,688.4 C642.1,683.5 650.1,674.9 658.5,673.4 C666.9,671.9 678.3,676.2 685.0,679.6 C691.7,683.0 693.7,688.2 698.7,693.8 C703.7,699.4 710.0,707.8 715.2,713.0 C720.4,718.2 724.9,721.9 729.8,725.3 C734.7,728.6 739.8,730.4 744.4,733.1 C749.0,735.8 753.9,739.3 757.2,741.3 C760.6,743.3 760.7,743.7 764.5,745.0 C768.3,746.3 776.4,747.9 780.0,749.0 C783.6,750.1 782.0,752.1 786.4,751.4 C790.8,750.7 799.5,748.0 806.5,744.6 C813.5,741.2 821.7,733.9 828.4,730.7 C835.1,727.5 840.9,727.3 846.7,725.3 C852.5,723.3 856.5,719.7 863.2,718.5 C869.9,717.3 877.5,717.6 886.9,717.9 C896.3,718.2 911.9,719.1 919.8,720.3 C927.7,721.5 930.1,722.3 934.4,724.9 C938.6,727.5 941.6,732.7 945.3,735.8 C948.9,738.9 952.2,741.9 956.3,743.5 C960.4,745.1 965.4,745.3 970.0,745.3 C974.6,745.3 977.8,745.4 983.7,743.7 C989.7,742.0 1000.8,736.5 1005.7,735.0 C1010.6,733.5 1008.4,736.6 1013.0,734.6 C1017.6,732.6 1026.1,728.7 1033.1,723.1 C1040.1,717.5 1048.9,706.4 1055.0,701.2 C1061.1,696.0 1064.7,695.0 1069.6,692.1 C1074.5,689.2 1079.3,686.1 1084.2,683.8 C1089.1,681.5 1094.0,680.3 1098.8,678.4 C1103.6,676.5 1110.7,673.5 1113.1,672.5" fill="none" stroke="#d2e040" stroke-width="1.2"/>
</g>
<rect x="10" y="815" width="1551" height="1" fill="#868993"/>
<rect x="10" y="636" width="1551" height="1" fill="#d5d7dc"/>
<text x="18.50" y="47.20" font-size="12.5" fill="#d1d4dc" text-anchor="start" font-weight="normal" stroke="#d1d4dc" stroke-width="0.25" textLength="187.60" lengthAdjust="spacingAndGlyphs" >Bitcoin / U.S. Dollar, 1D, BITFINEX</text>
<text x="214.00" y="47.20" font-size="12.5" fill="#e1e3e8" text-anchor="start" font-weight="normal" stroke="#e1e3e8" stroke-width="0.25" textLength="58.00" lengthAdjust="spacingAndGlyphs" >O65,759.0</text>
<text x="279.60" y="47.20" font-size="12.5" fill="#e1e3e8" text-anchor="start" font-weight="normal" stroke="#e1e3e8" stroke-width="0.25" textLength="57.80" lengthAdjust="spacingAndGlyphs" >H65,759.0</text>
<text x="345.00" y="47.20" font-size="12.5" fill="#e1e3e8" text-anchor="start" font-weight="normal" stroke="#e1e3e8" stroke-width="0.25" textLength="57.30" lengthAdjust="spacingAndGlyphs" >L63,368.0</text>
<text x="410.00" y="47.20" font-size="12.5" fill="#e1e3e8" text-anchor="start" font-weight="normal" stroke="#e1e3e8" stroke-width="0.25" textLength="56.40" lengthAdjust="spacingAndGlyphs" >C64,257.0</text>
<text x="474.30" y="47.20" font-size="12.5" fill="#e1e3e8" text-anchor="start" font-weight="normal" stroke="#e1e3e8" stroke-width="0.25" textLength="47.70" lengthAdjust="spacingAndGlyphs" >−1,505.0</text>
<text x="525.70" y="47.20" font-size="12.5" fill="#e1e3e8" text-anchor="start" font-weight="normal" stroke="#e1e3e8" stroke-width="0.25" textLength="52.70" lengthAdjust="spacingAndGlyphs" >(−2.29%)</text>
<text x="18.50" y="63.70" font-size="12.5" fill="#d1d4dc" text-anchor="start" font-weight="normal" stroke="#d1d4dc" stroke-width="0.25" textLength="50.20" lengthAdjust="spacingAndGlyphs" >Vol · BTC</text>
<text x="76.50" y="63.70" font-size="12.5" fill="#f04a5a" text-anchor="start" font-weight="normal" stroke="#f04a5a" stroke-width="0.25" textLength="21.50" lengthAdjust="spacingAndGlyphs" >667</text>
<text x="18.40" y="656.80" font-size="12.5" fill="#d1d4dc" text-anchor="start" font-weight="normal" stroke="#d1d4dc" stroke-width="0.25" textLength="79.90" lengthAdjust="spacingAndGlyphs" >RSI (14, close)</text>
<text x="106.50" y="656.80" font-size="12.5" fill="#7e57c2" text-anchor="start" font-weight="normal" stroke="#7e57c2" stroke-width="0.25" textLength="31.50" lengthAdjust="spacingAndGlyphs" >58.05</text>
<text x="145.70" y="656.80" font-size="12.5" fill="#e0f03a" text-anchor="start" font-weight="normal" stroke="#e0f03a" stroke-width="0.25" textLength="32.00" lengthAdjust="spacingAndGlyphs" >62.26</text>
<circle cx="189.5" cy="653.1" r="3.05" fill="none" stroke="#d6d8e0" stroke-width="1.05"/>
<line x1="186.40" y1="656.3" x2="192.60" y2="649.7" stroke="#d6d8e0" stroke-width="1.1"/>
<circle cx="204.55" cy="653.1" r="3.05" fill="none" stroke="#d6d8e0" stroke-width="1.05"/>
<line x1="201.45" y1="656.3" x2="207.65" y2="649.7" stroke="#d6d8e0" stroke-width="1.1"/>
<circle cx="219.8" cy="653.1" r="3.05" fill="none" stroke="#d6d8e0" stroke-width="1.05"/>
<line x1="216.70" y1="656.3" x2="222.90" y2="649.7" stroke="#d6d8e0" stroke-width="1.1"/>
<circle cx="235.3" cy="653.1" r="3.05" fill="none" stroke="#d6d8e0" stroke-width="1.05"/>
<line x1="232.20" y1="656.3" x2="238.40" y2="649.7" stroke="#d6d8e0" stroke-width="1.1"/>
<text x="1507.90" y="68.00" font-size="11" fill="#b2b5be" text-anchor="start" font-weight="normal" stroke="#b2b5be" stroke-width="0.25" textLength="43.40" lengthAdjust="spacingAndGlyphs" >74,000.0</text>
<text x="1507.90" y="100.20" font-size="11" fill="#b2b5be" text-anchor="start" font-weight="normal" stroke="#b2b5be" stroke-width="0.25" textLength="43.40" lengthAdjust="spacingAndGlyphs" >72,000.0</text>
<text x="1507.90" y="132.40" font-size="11" fill="#b2b5be" text-anchor="start" font-weight="normal" stroke="#b2b5be" stroke-width="0.25" textLength="43.40" lengthAdjust="spacingAndGlyphs" >70,000.0</text>
<text x="1507.90" y="164.60" font-size="11" fill="#b2b5be" text-anchor="start" font-weight="normal" stroke="#b2b5be" stroke-width="0.25" textLength="43.40" lengthAdjust="spacingAndGlyphs" >68,000.0</text>
<text x="1507.90" y="196.80" font-size="11" fill="#b2b5be" text-anchor="start" font-weight="normal" stroke="#b2b5be" stroke-width="0.25" textLength="43.40" lengthAdjust="spacingAndGlyphs" >66,000.0</text>
<text x="1507.90" y="293.40" font-size="11" fill="#b2b5be" text-anchor="start" font-weight="normal" stroke="#b2b5be" stroke-width="0.25" textLength="43.40" lengthAdjust="spacingAndGlyphs" >60,000.0</text>
<text x="1507.90" y="325.60" font-size="11" fill="#b2b5be" text-anchor="start" font-weight="normal" stroke="#b2b5be" stroke-width="0.25" textLength="43.40" lengthAdjust="spacingAndGlyphs" >58,000.0</text>
<text x="1507.90" y="357.80" font-size="11" fill="#b2b5be" text-anchor="start" font-weight="normal" stroke="#b2b5be" stroke-width="0.25" textLength="43.40" lengthAdjust="spacingAndGlyphs" >56,000.0</text>
<text x="1507.90" y="390.00" font-size="11" fill="#b2b5be" text-anchor="start" font-weight="normal" stroke="#b2b5be" stroke-width="0.25" textLength="43.40" lengthAdjust="spacingAndGlyphs" >54,000.0</text>
<text x="1507.90" y="422.20" font-size="11" fill="#b2b5be" text-anchor="start" font-weight="normal" stroke="#b2b5be" stroke-width="0.25" textLength="43.40" lengthAdjust="spacingAndGlyphs" >52,000.0</text>
<text x="1507.90" y="454.40" font-size="11" fill="#b2b5be" text-anchor="start" font-weight="normal" stroke="#b2b5be" stroke-width="0.25" textLength="43.40" lengthAdjust="spacingAndGlyphs" >50,000.0</text>
<text x="1507.90" y="486.60" font-size="11" fill="#b2b5be" text-anchor="start" font-weight="normal" stroke="#b2b5be" stroke-width="0.25" textLength="43.40" lengthAdjust="spacingAndGlyphs" >48,000.0</text>
<text x="1507.90" y="518.80" font-size="11" fill="#b2b5be" text-anchor="start" font-weight="normal" stroke="#b2b5be" stroke-width="0.25" textLength="43.40" lengthAdjust="spacingAndGlyphs" >46,000.0</text>
<text x="1507.90" y="583.20" font-size="11" fill="#b2b5be" text-anchor="start" font-weight="normal" stroke="#b2b5be" stroke-width="0.25" textLength="43.40" lengthAdjust="spacingAndGlyphs" >42,000.0</text>
<text x="1507.90" y="615.40" font-size="11" fill="#b2b5be" text-anchor="start" font-weight="normal" stroke="#b2b5be" stroke-width="0.25" textLength="43.40" lengthAdjust="spacingAndGlyphs" >40,000.0</text>
<rect x="1503.6" y="31" width="53.2" height="25.4" rx="4" fill="none" stroke="#3b3f49" stroke-width="1.2"/>
<text x="1512.30" y="48.00" font-size="11.5" fill="#d1d4dc" text-anchor="start" font-weight="bold" stroke="#d1d4dc" stroke-width="0.25" textLength="20.60" lengthAdjust="spacingAndGlyphs" >USD</text>
<rect x="1500" y="140" width="57" height="14.8" rx="2.5" fill="#ffffff"/>
<rect x="1500" y="140" width="3.5" height="14.8" fill="#ffffff"/>
<text x="1507.90" y="151.30" font-size="11" fill="#131722" text-anchor="start" font-weight="normal" stroke="#b2b5be" stroke-width="0.25" textLength="43.40" lengthAdjust="spacingAndGlyphs" >68,920.0</text>
<rect x="1500" y="214.8" width="57" height="41.2" rx="2.5" fill="#ffffff"/>
<rect x="1500" y="214.8" width="3.5" height="41.2" fill="#ffffff"/>
<text x="1507.90" y="225.60" font-size="11" fill="#131722" text-anchor="start" font-weight="normal" stroke="#131722" stroke-width="0.1" textLength="43.40" lengthAdjust="spacingAndGlyphs" >64,257.0</text>
<text x="1507.90" y="237.60" font-size="11" fill="#6a6d78" text-anchor="start" font-weight="normal" stroke="#6a6d78" stroke-width="0.1" textLength="43.40" lengthAdjust="spacingAndGlyphs" >10:45:04</text>
<text x="1507.90" y="251.30" font-size="11" fill="#131722" text-anchor="start" font-weight="normal" stroke="#131722" stroke-width="0.1" textLength="43.40" lengthAdjust="spacingAndGlyphs" >63,396.7</text>
<rect x="1450" y="214.8" width="50" height="15.1" rx="2.5" fill="#ffffff"/>
<rect x="1496.5" y="214.8" width="3.5" height="15.1" fill="#ffffff"/>
<text x="1454.30" y="225.90" font-size="11" fill="#131722" text-anchor="start" font-weight="normal" stroke="#131722" stroke-width="0.1" textLength="40.40" lengthAdjust="spacingAndGlyphs" >BTCUSD</text>
<rect x="1500" y="257" width="57" height="28.6" rx="2.5" fill="#f5dc2c"/>
<rect x="1500" y="257" width="3.5" height="28.6" fill="#f5dc2c"/>
<text x="1507.90" y="267.90" font-size="11" fill="#131722" text-anchor="start" font-weight="normal" stroke="#131722" stroke-width="0.1" textLength="43.40" lengthAdjust="spacingAndGlyphs" >61,646.1</text>
<text x="1507.90" y="281.50" font-size="11" fill="#131722" text-anchor="start" font-weight="normal" stroke="#131722" stroke-width="0.1" textLength="43.40" lengthAdjust="spacingAndGlyphs" >61,118.8</text>
<rect x="1500" y="397.7" width="57" height="15.4" rx="2.5" fill="#ffffff"/>
<rect x="1500" y="397.7" width="3.5" height="15.4" fill="#ffffff"/>
<text x="1507.90" y="409.20" font-size="11" fill="#131722" text-anchor="start" font-weight="normal" stroke="#131722" stroke-width="0.1" textLength="43.40" lengthAdjust="spacingAndGlyphs" >52,872.7</text>
<rect x="1500" y="542" width="57" height="14.7" rx="2.5" fill="#ffffff"/>
<rect x="1500" y="542" width="3.5" height="14.7" fill="#ffffff"/>
<text x="1507.90" y="553.40" font-size="11" fill="#131722" text-anchor="start" font-weight="normal" stroke="#131722" stroke-width="0.1" textLength="43.40" lengthAdjust="spacingAndGlyphs" >43,915.6</text>
<rect x="1500" y="591.2" width="57" height="14.6" rx="2.5" fill="#ffffff"/>
<rect x="1500" y="591.2" width="3.5" height="14.6" fill="#ffffff"/>
<text x="1507.90" y="602.10" font-size="11" fill="#131722" text-anchor="start" font-weight="normal" stroke="#131722" stroke-width="0.1" textLength="43.40" lengthAdjust="spacingAndGlyphs" >40,893.4</text>
<rect x="1456" y="608" width="80" height="23.6" fill="#6a0a28" fill-opacity="0.45"/>
<rect x="1456" y="614.2" width="75.8" height="14.4" rx="2" fill="#d45a4e"/>
<text x="1460.20" y="625.30" font-size="11" fill="#fde8e4" text-anchor="start" font-weight="normal" stroke="#fde8e4" stroke-width="0.25" textLength="34.50" lengthAdjust="spacingAndGlyphs" >Volume</text>
<text x="1507.50" y="625.30" font-size="11" fill="#fde8e4" text-anchor="start" font-weight="normal" stroke="#fde8e4" stroke-width="0.25" textLength="18.50" lengthAdjust="spacingAndGlyphs" >667</text>
<text x="1507.50" y="648.30" font-size="11" fill="#b2b5be" text-anchor="start" font-weight="normal" stroke="#b2b5be" stroke-width="0.25" textLength="27.80" lengthAdjust="spacingAndGlyphs" >70.00</text>
<text x="1507.50" y="721.30" font-size="11" fill="#b2b5be" text-anchor="start" font-weight="normal" stroke="#b2b5be" stroke-width="0.25" textLength="27.80" lengthAdjust="spacingAndGlyphs" >50.00</text>
<text x="1507.50" y="758.70" font-size="11" fill="#b2b5be" text-anchor="start" font-weight="normal" stroke="#b2b5be" stroke-width="0.25" textLength="27.80" lengthAdjust="spacingAndGlyphs" >40.00</text>
<text x="1507.50" y="794.40" font-size="11" fill="#b2b5be" text-anchor="start" font-weight="normal" stroke="#b2b5be" stroke-width="0.25" textLength="27.80" lengthAdjust="spacingAndGlyphs" >30.00</text>
<rect x="1423" y="665" width="117.8" height="14.9" rx="2.5" fill="#e3f23c"/>
<text x="1426.50" y="676.20" font-size="11" fill="#131722" text-anchor="start" font-weight="normal" stroke="#131722" stroke-width="0.1" textLength="68.50" lengthAdjust="spacingAndGlyphs" >RSI-based MA</text>
<text x="1507.50" y="676.20" font-size="11" fill="#131722" text-anchor="start" font-weight="normal" stroke="#131722" stroke-width="0.1" textLength="27.80" lengthAdjust="spacingAndGlyphs" >62.26</text>
<rect x="1476" y="681.2" width="64.8" height="14.8" rx="2.5" fill="#9a5fd4"/>
<text x="1479.50" y="692.40" font-size="11" fill="#f4ecff" text-anchor="start" font-weight="normal" stroke="#f4ecff" stroke-width="0.25" textLength="16.00" lengthAdjust="spacingAndGlyphs" >RSI</text>
<text x="1507.50" y="692.40" font-size="11" fill="#f4ecff" text-anchor="start" font-weight="normal" stroke="#f4ecff" stroke-width="0.25" textLength="27.80" lengthAdjust="spacingAndGlyphs" >58.05</text>
<text x="32.30" y="832.40" font-size="11" fill="#d1d4dc" text-anchor="middle" font-weight="bold" stroke="#d1d4dc" stroke-width="0.25" >May</text>
<text x="117.62" y="832.40" font-size="11" fill="#b2b5be" text-anchor="middle" font-weight="normal" stroke="#b2b5be" stroke-width="0.25" >13</text>
<text x="252.71" y="832.40" font-size="11" fill="#d1d4dc" text-anchor="middle" font-weight="bold" stroke="#d1d4dc" stroke-width="0.25" >Jun</text>
<text x="366.47" y="832.40" font-size="11" fill="#b2b5be" text-anchor="middle" font-weight="normal" stroke="#b2b5be" stroke-width="0.25" >17</text>
<text x="466.01" y="832.40" font-size="11" fill="#d1d4dc" text-anchor="middle" font-weight="bold" stroke="#d1d4dc" stroke-width="0.25" >Jul</text>
<text x="565.55" y="832.40" font-size="11" fill="#b2b5be" text-anchor="middle" font-weight="normal" stroke="#b2b5be" stroke-width="0.25" >15</text>
<text x="686.42" y="832.40" font-size="11" fill="#d1d4dc" text-anchor="middle" font-weight="bold" stroke="#d1d4dc" stroke-width="0.25" >Aug</text>
<text x="764.63" y="832.40" font-size="11" fill="#b2b5be" text-anchor="middle" font-weight="normal" stroke="#b2b5be" stroke-width="0.25" >12</text>
<text x="835.73" y="832.40" font-size="11" fill="#b2b5be" text-anchor="middle" font-weight="normal" stroke="#b2b5be" stroke-width="0.25" >22</text>
<text x="906.83" y="832.40" font-size="11" fill="#d1d4dc" text-anchor="middle" font-weight="bold" stroke="#d1d4dc" stroke-width="0.25" >Sep</text>
<text x="1013.48" y="832.40" font-size="11" fill="#b2b5be" text-anchor="middle" font-weight="normal" stroke="#b2b5be" stroke-width="0.25" >16</text>
<text x="1120.13" y="832.40" font-size="11" fill="#d1d4dc" text-anchor="middle" font-weight="bold" stroke="#d1d4dc" stroke-width="0.25" >Oct</text>
<text x="1212.56" y="832.40" font-size="11" fill="#b2b5be" text-anchor="middle" font-weight="normal" stroke="#b2b5be" stroke-width="0.25" >14</text>
<text x="1340.54" y="832.40" font-size="11" fill="#d1d4dc" text-anchor="middle" font-weight="bold" stroke="#d1d4dc" stroke-width="0.25" >Nov</text>
<text x="1411.64" y="832.40" font-size="11" fill="#b2b5be" text-anchor="middle" font-weight="normal" stroke="#b2b5be" stroke-width="0.25" >11</text>
<text x="1482.74" y="832.40" font-size="11" fill="#b2b5be" text-anchor="middle" font-weight="normal" stroke="#b2b5be" stroke-width="0.25" >21</text>
<g fill="#d8dbe3"><rect x="9.9" y="852.9" width="7.9" height="4.1"/><rect x="13.9" y="852.9" width="3.9" height="10.1"/><circle cx="21.1" cy="855.1" r="2"/><polygon points="21.3,863 26.1,863 29.5,852.9 24.7,852.9"/></g>
<text x="33.60" y="864.10" font-size="13.5" fill="#d8dbe3" text-anchor="start" font-weight="normal" textLength="73.70" lengthAdjust="spacingAndGlyphs" stroke="#d8dbe3" stroke-width="0.45">TradingView</text>
<rect x="1499" y="27" width="1" height="814" fill="#868993"/>
</svg></body></html>
